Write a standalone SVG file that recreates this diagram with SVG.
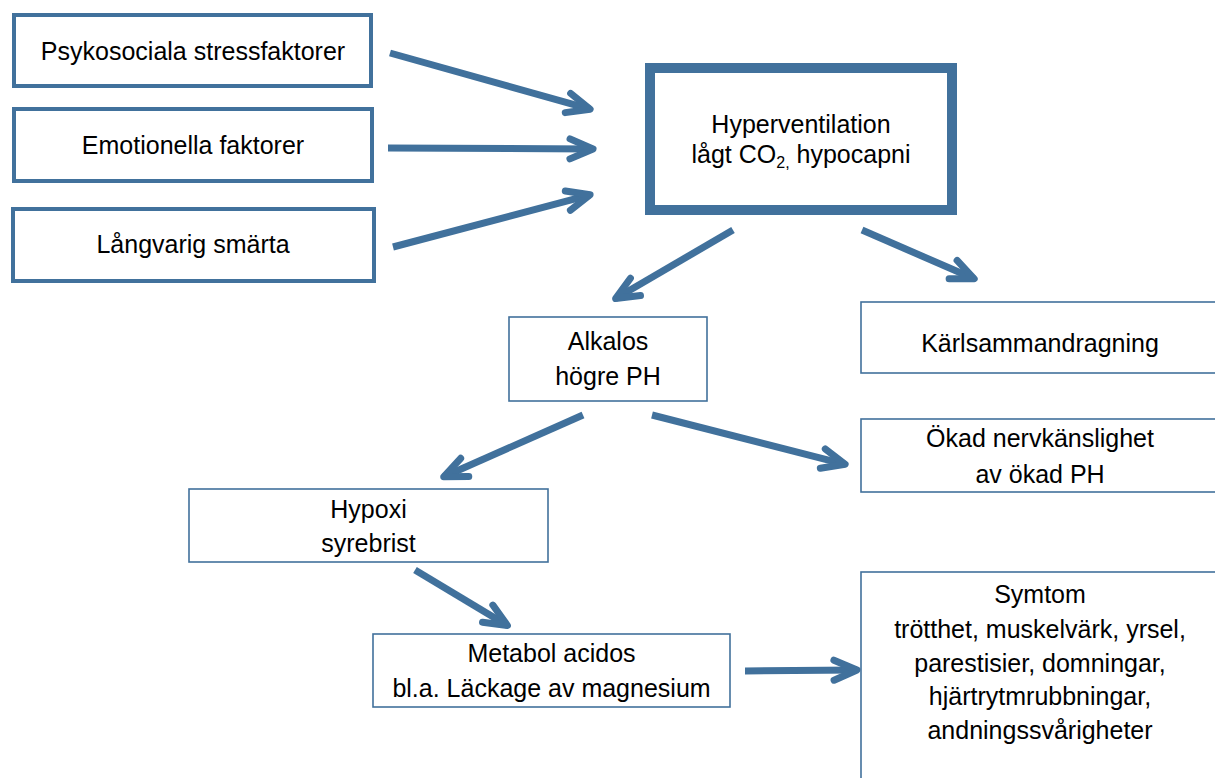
<svg xmlns="http://www.w3.org/2000/svg" width="1215" height="778" viewBox="0 0 1215 778">
<style>
  .t { font-family: "Liberation Sans", Arial, sans-serif; font-size: 25px; fill: #000; text-anchor: middle; }
  .thick { fill: #fff; stroke: #41719C; stroke-width: 4; }
  .main { fill: #fff; stroke: #41719C; stroke-width: 10; }
  .thin { fill: #fff; stroke: #41719C; stroke-width: 1.6; }
  .arrow { fill: none; stroke: #41719C; stroke-width: 7; marker-end: url(#head); }
</style>
<defs>
  <marker id="head" markerUnits="userSpaceOnUse" orient="auto" refX="0" refY="0" markerWidth="60" markerHeight="60" viewBox="-30 -30 60 60" overflow="visible">
    <path d="M-23,-10 L0,0 L-23,10" fill="none" stroke="#41719C" stroke-width="7" stroke-linecap="round" stroke-linejoin="round"/>
  </marker>
</defs>
<rect width="1215" height="778" fill="#fff"/>

<g id="n-psykosociala">
  <rect class="thick" x="14" y="15" width="357" height="71"/>
  <text class="t" x="193" y="60">Psykosociala stressfaktorer</text>
</g>
<g id="n-emotionella">
  <rect class="thick" x="14" y="109" width="358" height="72"/>
  <text class="t" x="193" y="154">Emotionella faktorer</text>
</g>
<g id="n-langvarig">
  <rect class="thick" x="13" y="209" width="361" height="72"/>
  <text class="t" x="193" y="253">Långvarig smärta</text>
</g>
<g id="n-hyperventilation">
  <rect class="main" x="650" y="68" width="302" height="142"/>
  <text class="t" x="801" y="133">Hyperventilation</text>
  <text class="t" x="801" y="163">lågt CO<tspan font-size="16" dy="5">2,</tspan><tspan dy="-5"> hypocapni</tspan></text>
</g>
<g id="n-alkalos">
  <rect class="thin" x="509" y="317" width="198" height="84"/>
  <text class="t" x="608" y="350">Alkalos</text>
  <text class="t" x="608" y="385">högre PH</text>
</g>
<g id="n-karl">
  <rect class="thin" x="861" y="302" width="370" height="71"/>
  <text class="t" x="1040" y="352">Kärlsammandragning</text>
</g>
<g id="n-okad">
  <rect class="thin" x="861" y="419" width="370" height="73"/>
  <text class="t" x="1040" y="447">Ökad nervkänslighet</text>
  <text class="t" x="1040" y="483">av ökad PH</text>
</g>
<g id="n-hypoxi">
  <rect class="thin" x="189" y="489" width="359" height="73"/>
  <text class="t" x="368.5" y="518">Hypoxi</text>
  <text class="t" x="368.5" y="552">syrebrist</text>
</g>
<g id="n-metabol">
  <rect class="thin" x="373" y="634" width="357" height="73"/>
  <text class="t" x="551.5" y="662">Metabol acidos</text>
  <text class="t" x="551.5" y="697">bl.a. Läckage av magnesium</text>
</g>
<g id="n-symtom">
  <rect class="thin" x="861" y="572" width="370" height="230"/>
  <text class="t" x="1040" y="603">Symtom</text>
  <text class="t" x="1040" y="638">trötthet, muskelvärk, yrsel,</text>
  <text class="t" x="1040" y="672">parestisier, domningar,</text>
  <text class="t" x="1040" y="705">hjärtrytmrubbningar,</text>
  <text class="t" x="1040" y="739">andningssvårigheter</text>
</g>

<g id="connectors">
  <line class="arrow" x1="390" y1="53" x2="590.1" y2="109.2"/>
  <line class="arrow" x1="388" y1="148" x2="593" y2="149"/>
  <line class="arrow" x1="393" y1="247" x2="590.1" y2="194.8"/>
  <line class="arrow" x1="733" y1="230" x2="615.6" y2="298.5"/>
  <line class="arrow" x1="862" y1="230" x2="974.2" y2="278.8"/>
  <line class="arrow" x1="583" y1="415" x2="443.7" y2="476.8"/>
  <line class="arrow" x1="652" y1="415" x2="845.1" y2="464.3"/>
  <line class="arrow" x1="415" y1="570" x2="507.4" y2="625.5"/>
  <line class="arrow" x1="745" y1="671" x2="857" y2="670"/>
</g>
</svg>
